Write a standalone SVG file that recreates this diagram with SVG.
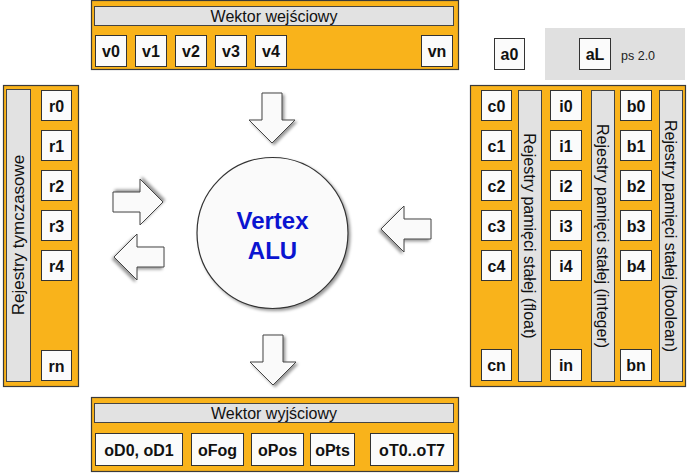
<svg xmlns="http://www.w3.org/2000/svg" width="690" height="474" viewBox="0 0 690 474">
<style>
.panel{fill:#f9b31b;stroke:#3a3a3a;stroke-width:1.2}
.bar{fill:#e2e2e2;stroke:#444;stroke-width:1}
.cell{fill:#fbfbfb;stroke:#333;stroke-width:1}
.ct{font-family:"Liberation Sans",Arial,sans-serif;font-weight:bold;font-size:16px;fill:#111;text-anchor:middle}
.bt{font-family:"Liberation Sans",Arial,sans-serif;font-size:16px;fill:#111;text-anchor:middle}
.arrow{fill:#fafafa;stroke:#444;stroke-width:1;filter:url(#sh)}
</style>
<defs>
<filter id="sh" x="-30%" y="-30%" width="160%" height="160%">
<feDropShadow dx="2" dy="2" stdDeviation="1.5" flood-color="#000" flood-opacity="0.4"/>
</filter>
<path id="arr" d="M-10,-50 H10 V-23 H23 L0,0 L-23,-23 H-10 Z"/>
</defs>
<rect width="690" height="474" fill="#fff"/>

<g id="input-vector">
<rect class="panel" x="91.5" y="0.5" width="367" height="69"/>
<rect class="bar" x="94.5" y="6.5" width="359" height="19"/>
<text class="bt" x="274" y="21.5">Wektor wejściowy</text>
<rect class="cell" x="95.5" y="35.5" width="31" height="31"/><text class="ct" x="111" y="57">v0</text>
<rect class="cell" x="135.5" y="35.5" width="31" height="31"/><text class="ct" x="151" y="57">v1</text>
<rect class="cell" x="175.5" y="35.5" width="31" height="31"/><text class="ct" x="191" y="57">v2</text>
<rect class="cell" x="215.5" y="35.5" width="31" height="31"/><text class="ct" x="231" y="57">v3</text>
<rect class="cell" x="255.5" y="35.5" width="31" height="31"/><text class="ct" x="271" y="57">v4</text>
<rect class="cell" x="421.5" y="35.5" width="31" height="31"/><text class="ct" x="437" y="57">vn</text>
</g>

<g id="address-registers">
<rect x="545" y="28" width="140" height="52" fill="#e0e0e0"/>
<rect class="cell" x="494.5" y="38.5" width="30" height="31"/><text class="ct" x="509.5" y="60">a0</text>
<rect class="cell" x="579.5" y="38.5" width="31" height="31"/><text class="ct" x="595" y="60">aL</text>
<text x="621" y="60" font-family="Liberation Sans,Arial,sans-serif" font-size="12.5" fill="#222">ps 2.0</text>
</g>

<g id="temp-registers">
<rect class="panel" x="3.5" y="85.5" width="75" height="301"/>
<rect class="bar" x="6.5" y="89.5" width="24" height="292"/>
<text class="bt" font-size="17" style="font-size:17px" transform="translate(24,235) rotate(-90)">Rejestry tymczasowe</text>
<rect class="cell" x="41.5" y="90.5" width="30" height="30"/><text class="ct" x="56.5" y="111.5">r0</text>
<rect class="cell" x="41.5" y="130.5" width="30" height="30"/><text class="ct" x="56.5" y="151.5">r1</text>
<rect class="cell" x="41.5" y="170.5" width="30" height="30"/><text class="ct" x="56.5" y="191.5">r2</text>
<rect class="cell" x="41.5" y="210.5" width="30" height="30"/><text class="ct" x="56.5" y="231.5">r3</text>
<rect class="cell" x="41.5" y="250.5" width="30" height="30"/><text class="ct" x="56.5" y="271.5">r4</text>
<rect class="cell" x="41.5" y="350.5" width="30" height="30"/><text class="ct" x="56.5" y="371.5">rn</text>
</g>

<g id="constant-registers">
<rect class="panel" x="470.5" y="85.5" width="215" height="301"/>
<rect class="bar" x="518.5" y="90.5" width="23" height="291"/>
<text class="bt" transform="translate(524,236) rotate(90)">Rejestry pamięci stałej (float)</text>
<rect class="bar" x="591.5" y="90.5" width="23" height="291"/>
<text class="bt" transform="translate(597,236) rotate(90)">Rejestry pamięci stałej (integer)</text>
<rect class="bar" x="659.5" y="90.5" width="23" height="291"/>
<text class="bt" transform="translate(665,236) rotate(90)">Rejestry pamięci stałej (boolean)</text>
<rect class="cell" x="481.5" y="90.5" width="30" height="30"/><text class="ct" x="496.5" y="111.5">c0</text>
<rect class="cell" x="481.5" y="130.5" width="30" height="30"/><text class="ct" x="496.5" y="151.5">c1</text>
<rect class="cell" x="481.5" y="170.5" width="30" height="30"/><text class="ct" x="496.5" y="191.5">c2</text>
<rect class="cell" x="481.5" y="210.5" width="30" height="30"/><text class="ct" x="496.5" y="231.5">c3</text>
<rect class="cell" x="481.5" y="250.5" width="30" height="30"/><text class="ct" x="496.5" y="271.5">c4</text>
<rect class="cell" x="481.5" y="349.5" width="30" height="31"/><text class="ct" x="496.5" y="371">cn</text>
<rect class="cell" x="550.5" y="90.5" width="31" height="30"/><text class="ct" x="566" y="111.5">i0</text>
<rect class="cell" x="550.5" y="130.5" width="31" height="30"/><text class="ct" x="566" y="151.5">i1</text>
<rect class="cell" x="550.5" y="170.5" width="31" height="30"/><text class="ct" x="566" y="191.5">i2</text>
<rect class="cell" x="550.5" y="210.5" width="31" height="30"/><text class="ct" x="566" y="231.5">i3</text>
<rect class="cell" x="550.5" y="250.5" width="31" height="30"/><text class="ct" x="566" y="271.5">i4</text>
<rect class="cell" x="550.5" y="349.5" width="31" height="31"/><text class="ct" x="566" y="371">in</text>
<rect class="cell" x="620.5" y="90.5" width="31" height="30"/><text class="ct" x="636" y="111.5">b0</text>
<rect class="cell" x="620.5" y="130.5" width="31" height="30"/><text class="ct" x="636" y="151.5">b1</text>
<rect class="cell" x="620.5" y="170.5" width="31" height="30"/><text class="ct" x="636" y="191.5">b2</text>
<rect class="cell" x="620.5" y="210.5" width="31" height="30"/><text class="ct" x="636" y="231.5">b3</text>
<rect class="cell" x="620.5" y="250.5" width="31" height="30"/><text class="ct" x="636" y="271.5">b4</text>
<rect class="cell" x="620.5" y="349.5" width="31" height="31"/><text class="ct" x="636" y="371">bn</text>
</g>

<g id="output-vector">
<rect class="panel" x="91.5" y="397.5" width="367" height="74"/>
<rect class="bar" x="94.5" y="403.5" width="359" height="19"/>
<text class="bt" x="274" y="419">Wektor wyjściowy</text>
<rect class="cell" x="95.5" y="433.5" width="87" height="32"/><text class="ct" x="139" y="456">oD0, oD1</text>
<rect class="cell" x="191.5" y="433.5" width="52" height="32"/><text class="ct" x="217.5" y="456">oFog</text>
<rect class="cell" x="251.5" y="433.5" width="52" height="32"/><text class="ct" x="277.5" y="456">oPos</text>
<rect class="cell" x="310.5" y="433.5" width="44" height="32"/><text class="ct" x="332.5" y="456">oPts</text>
<rect class="cell" x="370.5" y="433.5" width="83" height="32"/><text class="ct" x="412" y="456">oT0..oT7</text>
</g>

<g id="vertex-alu">
<circle cx="272.5" cy="233" r="75.5" fill="#fafafa" stroke="#333" stroke-width="1.2" filter="url(#sh)"/>
<text x="272.5" y="229" text-anchor="middle" font-family="Liberation Sans,Arial,sans-serif" font-weight="bold" font-size="24" fill="#0a14d0">Vertex</text>
<text x="272.5" y="259" text-anchor="middle" font-family="Liberation Sans,Arial,sans-serif" font-weight="bold" font-size="24" fill="#0a14d0">ALU</text>
</g>

<g id="connectors">
<use href="#arr" class="arrow" transform="translate(272,143)"/>
<use href="#arr" class="arrow" transform="translate(273,385)"/>
<use href="#arr" class="arrow" transform="translate(163,202) rotate(-90)"/>
<use href="#arr" class="arrow" transform="translate(114,257) rotate(90)"/>
<use href="#arr" class="arrow" transform="translate(381,229) rotate(90)"/>
</g>
</svg>
